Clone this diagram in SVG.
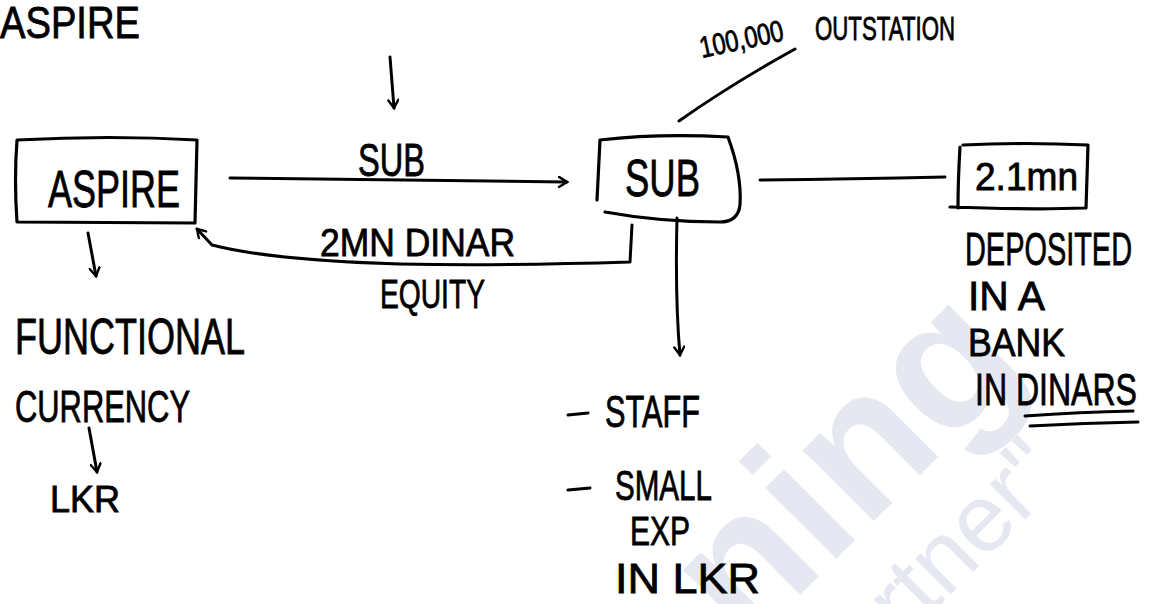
<svg xmlns="http://www.w3.org/2000/svg" width="1149" height="604" viewBox="0 0 1149 604">
<style>
.t{font-family:"Liberation Sans",Arial,sans-serif;fill:#000;stroke:#000;stroke-width:0.8}
.b{fill:none;stroke:#000;stroke-width:3.2;stroke-linecap:round;stroke-linejoin:round}
.c{fill:none;stroke:#000;stroke-width:3;stroke-linecap:round;stroke-linejoin:round}
.wm{font-family:"Liberation Sans",Arial,sans-serif;fill:#e5e7f1}
</style>
<defs>
<marker id="ah" viewBox="0 0 12 12" refX="10" refY="6" markerWidth="12" markerHeight="12" markerUnits="userSpaceOnUse" orient="auto">
<path d="M2,1 L10,6 L2,11" fill="none" stroke="#000" stroke-width="2.4" stroke-linecap="round"/>
</marker>
</defs>
<rect width="1149" height="604" fill="#fff"/>
<g id="watermark">
<text class="wm" x="0" y="0" font-size="190" font-weight="bold" transform="translate(745,650) rotate(-45)">ning</text>
<text class="wm" x="0" y="0" font-size="95" transform="translate(905,640) rotate(-45)" fill="#e9ebf3">rtner"</text>
</g>
<g id="title">
<text class="t" x="0" y="38" font-size="44" textLength="140" lengthAdjust="spacingAndGlyphs">ASPIRE</text>
</g>
<g id="node-aspire">
<path class="b" d="M17,140 Q14,180 17,222 L195,223 L197,140 Q110,135 17,140 Z"/>
<text class="t" x="48" y="207" font-size="52" textLength="132" lengthAdjust="spacingAndGlyphs">ASPIRE</text>
</g>
<g id="node-sub">
<path class="b" d="M600,140 Q660,133 728,137 Q742,175 740,205 Q738,222 720,222 Q660,222 605,212 M600,140 L597,200"/>
<text class="t" x="625" y="196" font-size="52" textLength="75" lengthAdjust="spacingAndGlyphs">SUB</text>
</g>
<g id="node-2mn">
<path class="b" d="M960,147 Q958,180 958,208 M963,145 Q1025,142 1088,145 L1086,208 Q1030,210 950,207"/>
<text class="t" x="975" y="190" font-size="38" textLength="103" lengthAdjust="spacingAndGlyphs">2.1mn</text>
</g>
<g id="connectors">
<path class="c" d="M390,57 L394,108" marker-end="url(#ah)"/>
<path class="c" d="M230,178 Q400,180 567,182" marker-end="url(#ah)"/>
<path class="c" d="M632,225 L630,262 Q500,266 400,264 Q270,260 212,245 L197,229" marker-end="url(#ah)"/>
<path class="c" d="M679,121 Q730,85 795,49"/>
<path class="c" d="M760,180 Q850,179 945,177"/>
<path class="c" d="M677,218 Q675,300 680,355" marker-end="url(#ah)"/>
<path class="c" d="M88,233 L96,276" marker-end="url(#ah)"/>
<path class="c" d="M89,428 L97,472" marker-end="url(#ah)"/>
</g>
<g id="labels">
<text class="t" x="358" y="176" font-size="46" textLength="67" lengthAdjust="spacingAndGlyphs">SUB</text>
<text class="t" x="320" y="256" font-size="38" textLength="195" lengthAdjust="spacingAndGlyphs">2MN DINAR</text>
<text class="t" x="380" y="308" font-size="40" textLength="105" lengthAdjust="spacingAndGlyphs">EQUITY</text>
<text class="t" x="0" y="0" font-size="30" textLength="85" lengthAdjust="spacingAndGlyphs" transform="translate(702,58) rotate(-12)">100,000</text>
<text class="t" x="815" y="40" font-size="34" textLength="140" lengthAdjust="spacingAndGlyphs">OUTSTATION</text>
</g>
<g id="functional">
<text class="t" x="15" y="354" font-size="50" textLength="230" lengthAdjust="spacingAndGlyphs">FUNCTIONAL</text>
<text class="t" x="15" y="422" font-size="44" textLength="175" lengthAdjust="spacingAndGlyphs">CURRENCY</text>
<text class="t" x="50" y="512" font-size="36" textLength="70" lengthAdjust="spacingAndGlyphs">LKR</text>
</g>
<g id="sub-notes">
<path class="c" d="M568,415 L588,413"/>
<text class="t" x="605" y="427" font-size="44" textLength="95" lengthAdjust="spacingAndGlyphs">STAFF</text>
<path class="c" d="M568,490 L590,488"/>
<text class="t" x="615" y="500" font-size="42" textLength="97" lengthAdjust="spacingAndGlyphs">SMALL</text>
<text class="t" x="630" y="545" font-size="40" textLength="60" lengthAdjust="spacingAndGlyphs">EXP</text>
<text class="t" x="615" y="593" font-size="42" textLength="145" lengthAdjust="spacingAndGlyphs">IN LKR</text>
</g>
<g id="deposit-notes">
<text class="t" x="965" y="265" font-size="46" textLength="167" lengthAdjust="spacingAndGlyphs">DEPOSITED</text>
<text class="t" x="968" y="310" font-size="40" textLength="77" lengthAdjust="spacingAndGlyphs">IN A</text>
<text class="t" x="968" y="356" font-size="38" textLength="97" lengthAdjust="spacingAndGlyphs">BANK</text>
<text class="t" x="975" y="405" font-size="44" textLength="162" lengthAdjust="spacingAndGlyphs">IN DINARS</text>
<path class="c" d="M1025,416 Q1080,412 1133,411"/>
<path class="c" d="M1030,426 Q1085,423 1138,422"/>
</g>
</svg>
